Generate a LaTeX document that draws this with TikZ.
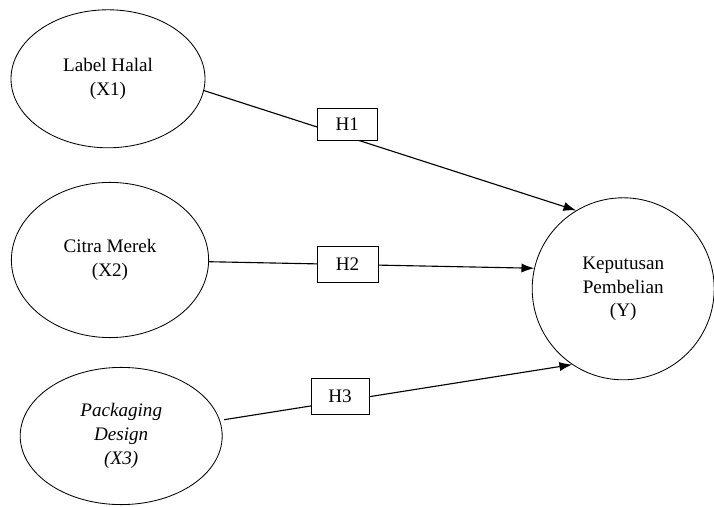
\documentclass[tikz,border=0pt]{standalone}
\usepackage{fontspec}
\setmainfont{Liberation Serif}
\usetikzlibrary{shapes.geometric, arrows.meta}

\begin{document}
\begin{tikzpicture}[
    var/.style={ellipse, draw, semithick, inner sep=0pt, align=center, font=\fontsize{13.6}{16.8}\selectfont},
    hyp/.style={rectangle, draw, semithick, fill=white, minimum width=1.5cm, minimum height=0.92cm, font=\fontsize{13.6}{16.8}\selectfont},
    link/.style={-{Latex[length=9pt,width=6.5pt]}, thick}
]
    \useasboundingbox (0,0) rectangle (17.85,12.65);

    % Independent variables
    \node[var, minimum width=4.85cm, minimum height=3.45cm] (lh) at (2.7,10.68) {Label Halal\\(X1)};
    \node[var, minimum width=4.93cm, minimum height=3.88cm] (cm) at (2.75,6.15) {Citra Merek\\(X2)};
    \node[var, minimum width=5.05cm, minimum height=3.43cm] (pd) at (3.03,1.75) {\itshape Packaging\\\itshape Design\\\itshape (X3)};

    % Dependent variable
    \node[var, circle, minimum size=4.55cm] (kp) at (15.58,5.43) {Keputusan\\Pembelian\\(Y)};

    % Hypotheses
    \draw[link] (lh.-7) -- (kp.121);
    \draw[link] (cm.-1) -- (kp.167);
    \draw[link, shorten <=3pt] (pd.9) -- (kp.236);
    \node[hyp, minimum height=0.8cm] (h1) at (8.68,9.55) {H1};
    \node[hyp, minimum width=1.53cm] (h2) at (8.69,6.04) {H2};
    \node[hyp, minimum width=1.45cm] (h3) at (8.5,2.74) {H3};
\end{tikzpicture}
\end{document}
